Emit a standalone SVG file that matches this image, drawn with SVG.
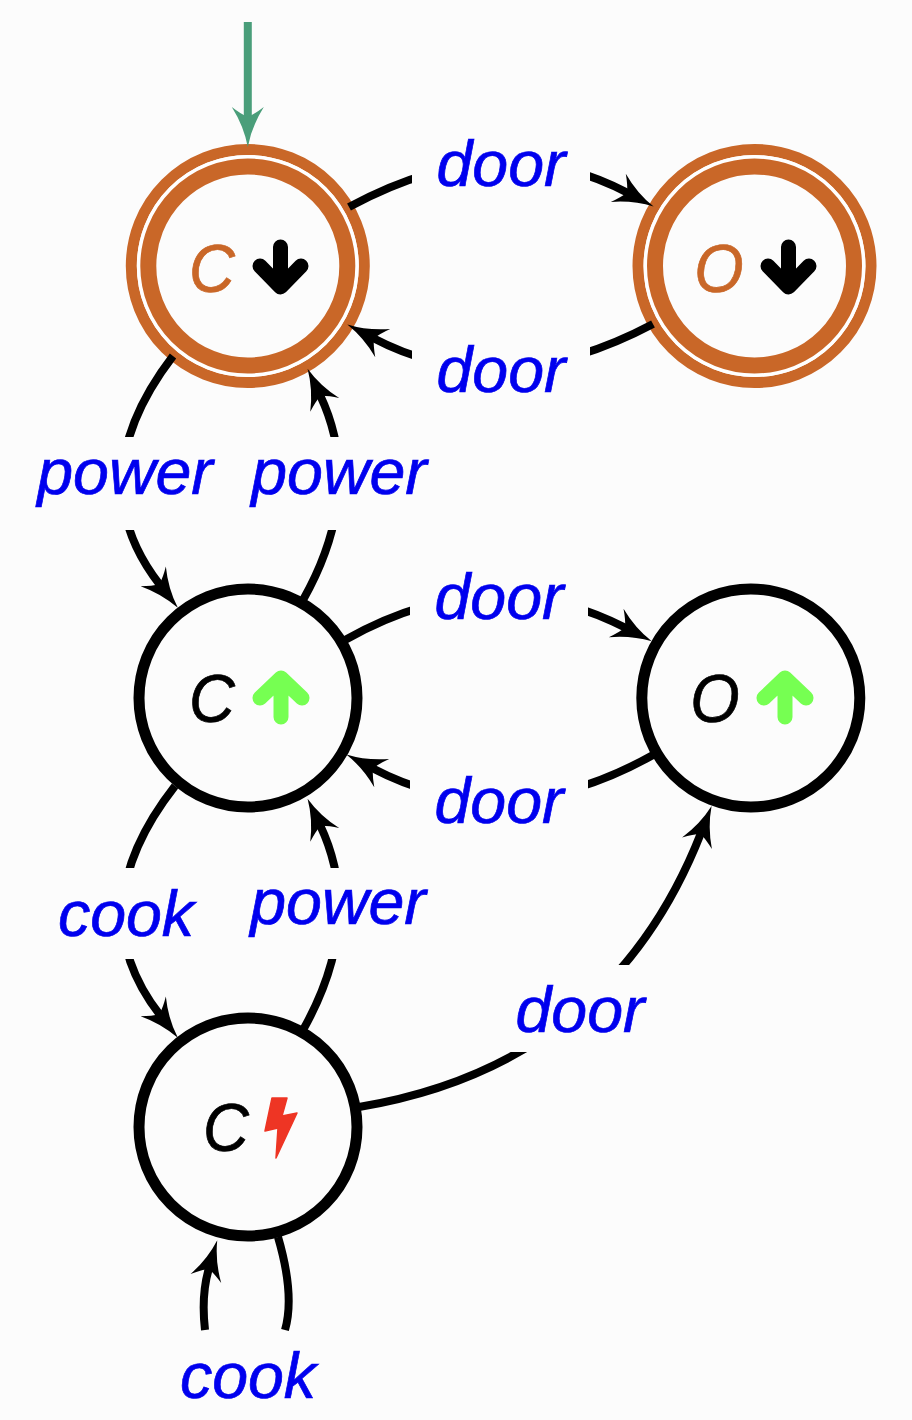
<svg xmlns="http://www.w3.org/2000/svg" width="912" height="1420" viewBox="0 0 912 1420">
<style>
.t{font-family:"Liberation Sans",Arial,sans-serif;font-style:italic;text-anchor:middle;stroke-width:.7}
.l{font-size:64.5px;fill:#0000ee;stroke:#0000ee}
.n{font-size:69px;fill:#000;stroke:#000}
.o{fill:#c96728;stroke:#c96728}
.e{fill:none;stroke:#000;stroke-width:8}
.bg{fill:#fcfcfc}
.ring{fill:#fcfcfc;stroke:#000;stroke-width:11}
.a{fill:none;stroke-width:15;stroke-linecap:round;stroke-linejoin:round}
</style>
<defs>
<marker id="h" markerUnits="userSpaceOnUse" viewBox="-13 -18 44 36" refX="0" refY="0" markerWidth="44" markerHeight="36" orient="auto"><path d="M29 0Q8 -4 -11 -16Q-4 -7 -1 0Q-4 7 -11 16Q8 4 29 0Z" fill="#000"/></marker>
<marker id="g" markerUnits="userSpaceOnUse" viewBox="-13 -18 44 36" refX="0" refY="0" markerWidth="44" markerHeight="36" orient="auto"><path d="M29 0Q8 -4 -11 -16Q-4 -7 -1 0Q-4 7 -11 16Q8 4 29 0Z" fill="#4a9e7a"/></marker>
</defs>
<rect class="bg" width="912" height="1420"/>
<g id="node-c-down">
<circle cx="247.8" cy="266" r="116.5" fill="none" stroke="#c96728" stroke-width="11"/>
<circle cx="247.8" cy="266" r="109.2" fill="none" stroke="#fff" stroke-width="3.5"/>
<circle cx="247.8" cy="266" r="99.5" class="bg" stroke="#c96728" stroke-width="16"/>
<text class="t n o" transform="translate(212 292) scale(.92 1)">C</text>
<path class="a" stroke="#000" d="M280.5 247V286M260 266L280.5 287L301 266"/>
</g>
<g id="node-o-down">
<circle cx="754.5" cy="266" r="116.5" fill="none" stroke="#c96728" stroke-width="11"/>
<circle cx="754.5" cy="266" r="109.2" fill="none" stroke="#fff" stroke-width="3.5"/>
<circle cx="754.5" cy="266" r="99.5" class="bg" stroke="#c96728" stroke-width="16"/>
<text class="t n o" transform="translate(719 292) scale(.92 1)">O</text>
<path class="a" stroke="#000" d="M788.5 247V286M768 266L788.5 287L809 266"/>
</g>
<g id="node-c-up">
<circle class="ring" cx="248" cy="698" r="109"/>
<text class="t n" transform="translate(212 722) scale(.92 1)">C</text>
<path class="a" stroke="#76ff52" d="M281 717V680M260 698L281 678L302 698"/>
</g>
<g id="node-o-up">
<circle class="ring" cx="750.8" cy="698" r="109"/>
<text class="t n" transform="translate(715 722) scale(.92 1)">O</text>
<path class="a" stroke="#76ff52" d="M785 717V680M764 698L785 678L806 698"/>
</g>
<g id="node-c-on">
<circle class="ring" cx="248" cy="1127" r="109"/>
<text class="t n" transform="translate(226 1151) scale(.92 1)">C</text>
<path d="M272 1098H287L282 1116L297 1113L276 1158L278 1128L265 1131Z" fill="#ee3524" stroke="#ee3524" stroke-width="1.5" stroke-linejoin="round"/>
</g>
<g id="connectors">
<path d="M247.8 22V118" fill="none" stroke="#4a9e7a" stroke-width="8" marker-end="url(#g)"/>
<path class="e" marker-end="url(#h)" d="M349 207Q500 125 628 193"/>
<path class="e" marker-end="url(#h)" d="M653 324Q500 405 373 338"/>
<path class="e" marker-end="url(#h)" d="M173 356Q78 480 160 585"/>
<path class="e" marker-end="url(#h)" d="M303 600Q365 490 320 395"/>
<path class="e" marker-end="url(#h)" d="M345 640Q490 558 626 628"/>
<path class="e" marker-end="url(#h)" d="M653 755Q505 838 372 768"/>
<path class="e" marker-end="url(#h)" d="M175 786Q78 910 160 1015"/>
<path class="e" marker-end="url(#h)" d="M303 1030Q365 920 320 825"/>
<path class="e" marker-end="url(#h)" d="M359 1107Q610 1065 701 833"/>
<path class="e" d="M278 1237Q295 1295 285 1330"/>
<path class="e" marker-end="url(#h)" d="M205 1330Q201 1295 209 1268"/>
</g>
<g id="labels">
<rect class="bg" x="412" y="125" width="178" height="75"/><text class="t l" x="501" y="186">door</text>
<rect class="bg" x="412" y="330" width="178" height="80"/><text class="t l" x="501" y="392">door</text>
<rect class="bg" x="410" y="560" width="178" height="70"/><text class="t l" x="499" y="619">door</text>
<rect class="bg" x="410" y="765" width="178" height="75"/><text class="t l" x="499" y="823">door</text>
<rect class="bg" x="25" y="437" width="200" height="93"/><text class="t l" x="125" y="494">power</text>
<rect class="bg" x="240" y="437" width="195" height="93"/><text class="t l" x="339" y="494">power</text>
<rect class="bg" x="45" y="868" width="165" height="91"/><text class="t l" x="126" y="936">cook</text>
<rect class="bg" x="240" y="868" width="195" height="91"/><text class="t l" x="338" y="924">power</text>
<rect class="bg" x="500" y="965" width="162" height="87"/><text class="t l" x="580" y="1032">door</text>
<text class="t l" x="248" y="1398">cook</text>
</g>
</svg>
